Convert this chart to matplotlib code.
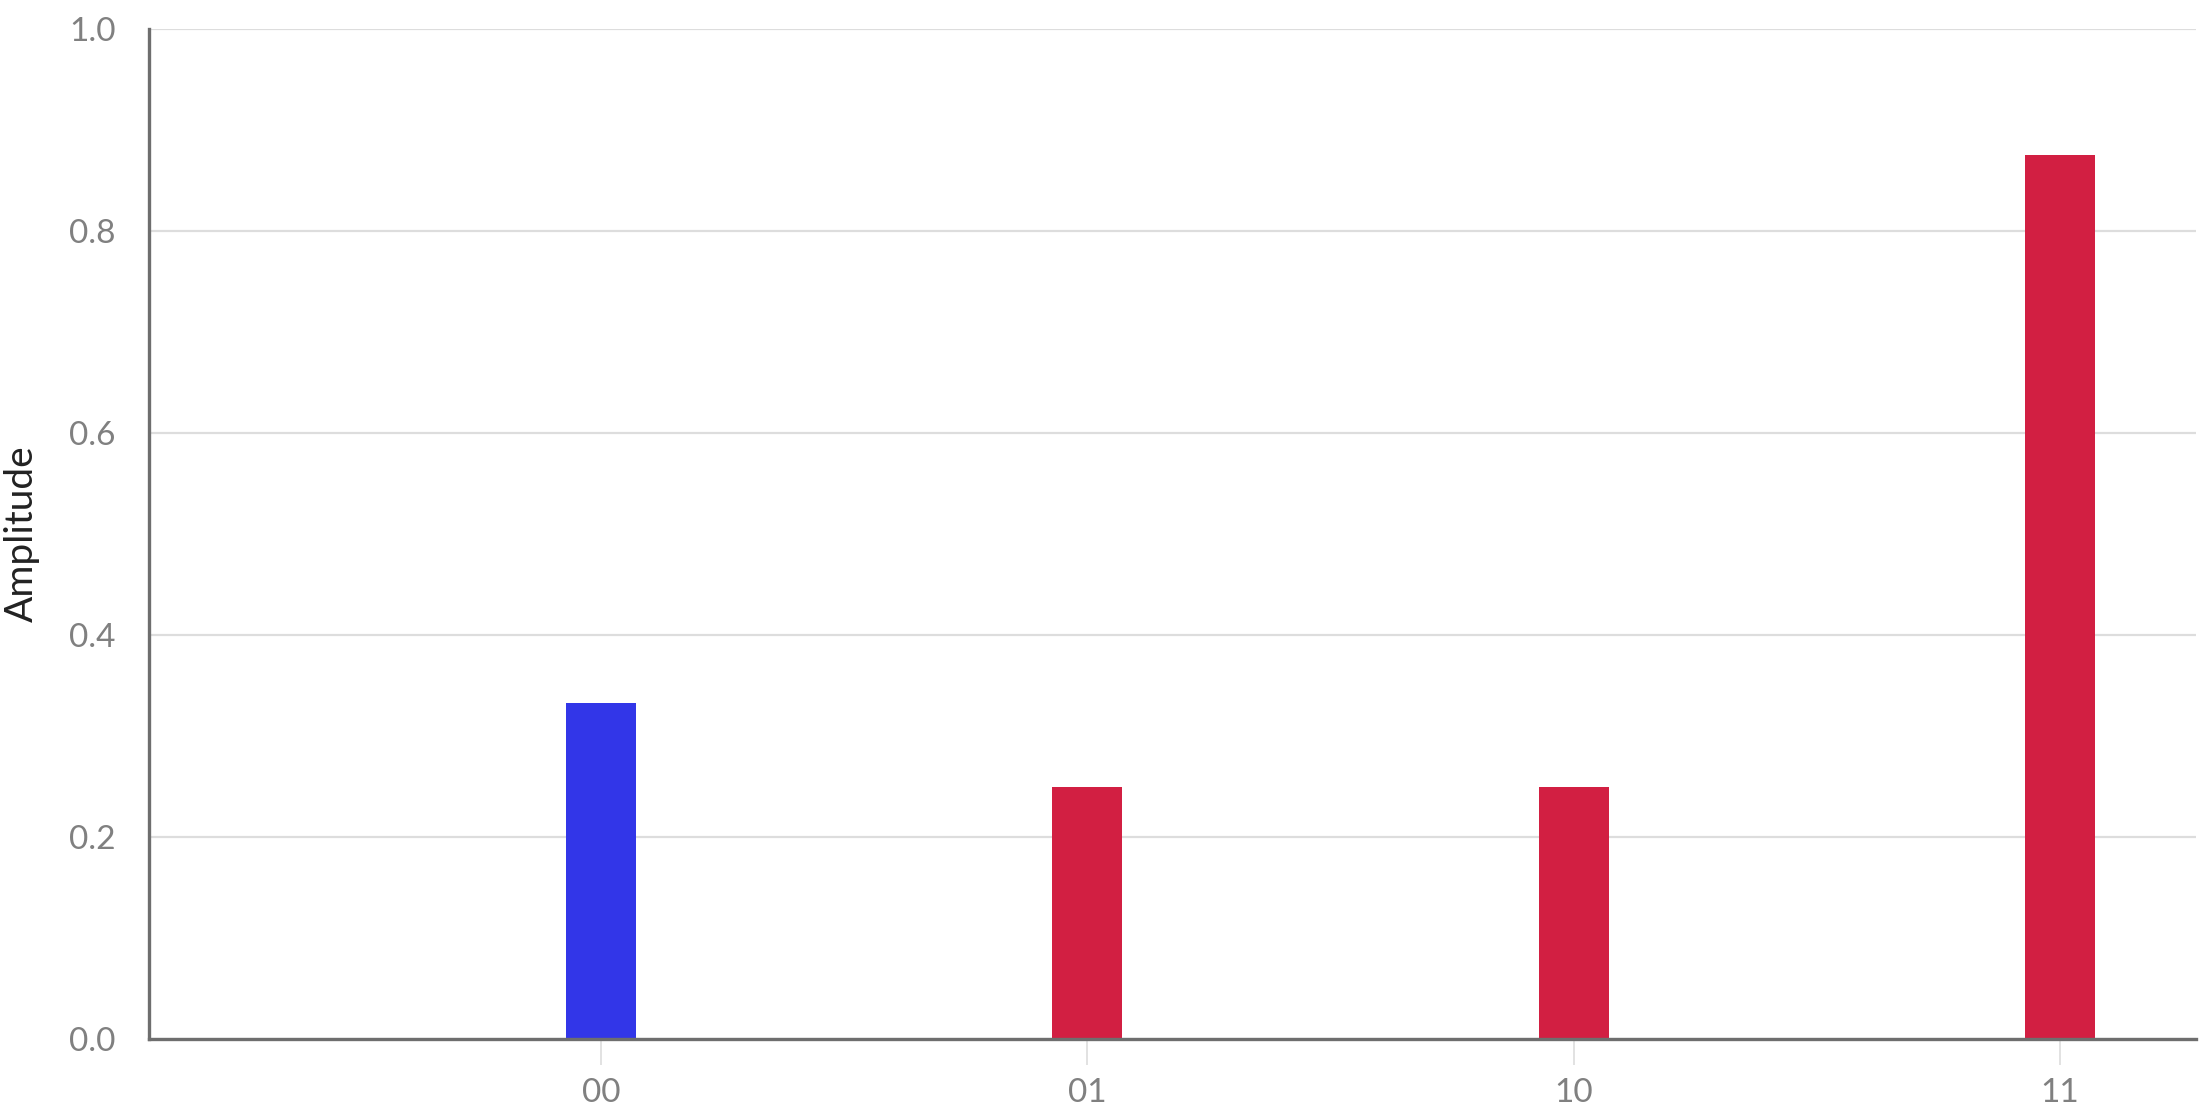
import numpy as np
import matplotlib
matplotlib.use("Agg")
import matplotlib.pyplot as plt

# basis states and their amplitudes
states = ["00", "01", "10", "11"]
amplitudes = [0.333, 0.25, 0.25, 0.875]
bar_colors = ["#3236E8", "#D21F42", "#D21F42", "#D21F42"]
y_ticks = [0.0, 0.2, 0.4, 0.6, 0.8, 1.0]

plt.rcParams['font.family'] = ['Lato', 'DejaVu Sans']

fig = plt.figure(figsize=(22.06, 11.14), dpi=100)
ax = fig.add_axes([0.0675, 0.0673, 0.928, 0.9066])

x = np.arange(len(states))
ax.bar(x, amplitudes, width=0.144, color=bar_colors, zorder=3)

ax.set_xlim(-0.93, 3.28)
ax.set_ylim(0, 1.0)
ax.set_yticks(y_ticks)
ax.set_yticklabels([f"{v:.1f}" for v in y_ticks])
ax.set_xticks(x)
ax.set_xticklabels(states)

ax.grid(axis='y', color='#DDDDDD', linewidth=1.6, zorder=0)
ax.grid(axis='x', visible=False)

for side in ['top', 'right']:
    ax.spines[side].set_visible(False)
for side in ['left', 'bottom']:
    ax.spines[side].set_color('#6E6E6E')
    ax.spines[side].set_linewidth(2.4)
    ax.spines[side].set_zorder(4)

ax.tick_params(axis='y', length=0, pad=24, labelsize=24, labelcolor='#808080')
ax.tick_params(axis='x', length=19, width=1.2, color='#DDDDDD', pad=9,
               labelsize=24, labelcolor='#808080')

ax.set_ylabel("Amplitude", fontsize=28, color='#222222')
ax.yaxis.set_label_coords(-0.0535, 0.5)

fig.savefig("out.png", dpi=100)
